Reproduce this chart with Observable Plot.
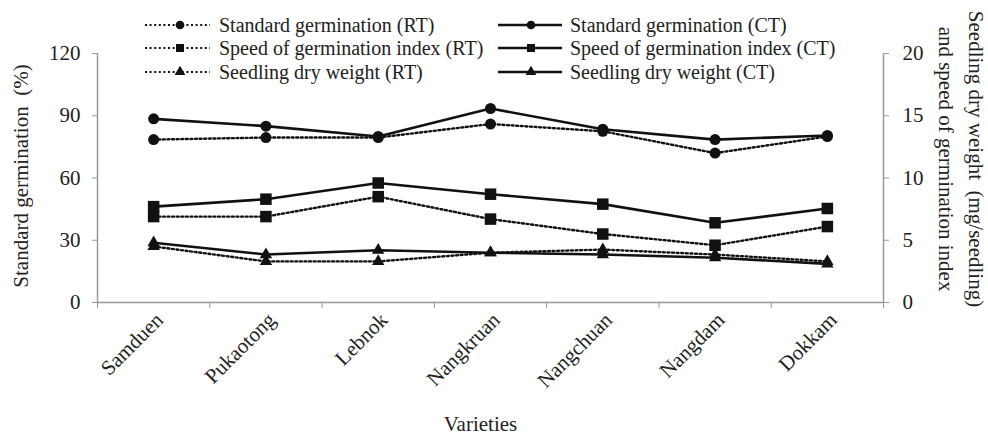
<!DOCTYPE html>
<html>
<head>
<meta charset="utf-8">
<script src="https://cdn.jsdelivr.net/npm/d3@7"></script>
<script src="https://cdn.jsdelivr.net/npm/@observablehq/plot@0.6"></script>
<style>
  html, body { margin: 0; padding: 0; background: #fff; }
  #chart { width: 988px; height: 434px; }
  #chart svg, #chart svg text, #chart svg tspan { font-family: "Liberation Serif", "Times New Roman", serif !important; }
</style>
</head>
<body>
<div id="chart"></div>
<script>
// ---- data ----
const varieties = ["Samduen", "Pukaotong", "Lebnok", "Nangkruan", "Nangchuan", "Nangdam", "Dokkam"];
// Standard germination (%) – left axis
const sgRT = [78.5, 79.5, 79.5, 86, 82.5, 72, 80];
const sgCT = [88.5, 85, 80, 93.5, 83.5, 78.5, 80.5];
// Speed of germination index – right axis
const sgiRT = [6.9, 6.9, 8.5, 6.7, 5.5, 4.6, 6.1];
const sgiCT = [7.7, 8.3, 9.6, 8.7, 7.9, 6.4, 7.55];
// Seedling dry weight (mg/seedling) – right axis
const sdwRT = [4.5, 3.3, 3.3, 4.0, 4.25, 3.85, 3.3];
const sdwCT = [4.8, 3.85, 4.2, 4.0, 3.85, 3.6, 3.1];

const leftTicks = [0, 30, 60, 90, 120];
const rightTicks = [0, 5, 10, 15, 20];
const leftMax = 120, rightMax = 20;
const k = leftMax / rightMax; // right values mapped onto the left scale

const seriesDefs = [
  {name: "Standard germination (RT)", vals: sgRT, scale: 1, dashed: true, symbol: "circle"},
  {name: "Speed of germination index (RT)", vals: sgiRT, scale: k, dashed: true, symbol: "square"},
  {name: "Seedling dry weight (RT)", vals: sdwRT, scale: k, dashed: true, symbol: "triangle"},
  {name: "Standard germination (CT)", vals: sgCT, scale: 1, dashed: false, symbol: "circle"},
  {name: "Speed of germination index (CT)", vals: sgiCT, scale: k, dashed: false, symbol: "square"},
  {name: "Seedling dry weight (CT)", vals: sdwCT, scale: k, dashed: false, symbol: "triangle"}
];

const rows = [];
seriesDefs.forEach(s => s.vals.forEach((v, i) => rows.push({
  series: s.name, xi: i + 0.5, y: v * s.scale, dashed: s.dashed, symbol: s.symbol
})));

const symR = {circle: 5.5, square: 6.5, triangle: 4.6};
const axisGray = "#999";
const FONT = "'Liberation Serif', 'Times New Roman', serif";

const chart = Plot.plot({
  width: 988,
  height: 434,
  marginLeft: 97,
  marginRight: 105,
  marginTop: 53,
  marginBottom: 132,
  style: {fontFamily: FONT, fontSize: "21px", color: "#222", background: "#fff"},
  x: {type: "linear", domain: [0, varieties.length]},
  y: {domain: [0, leftMax]},
  marks: [
    // frame axis lines
    Plot.ruleY([0], {stroke: axisGray, strokeWidth: 1.5}),
    Plot.ruleX([0, varieties.length], {stroke: axisGray, strokeWidth: 1.5}),
    // x axis: boundary ticks + rotated category labels
    Plot.axisX({ticks: d3.range(varieties.length + 1), tickFormat: () => "", tickSize: 6, stroke: axisGray, label: null}),
    Plot.axisX({ticks: varieties.map((d, i) => i + 0.5), tickFormat: v => varieties[Math.floor(v)],
      tickSize: 0, tickRotate: -45, tickPadding: 14, dx: 6, label: null, fill: "#222", fontSize: 21}),
    // left axis
    Plot.axisY({ticks: leftTicks, tickSize: 5, tickPadding: 12, stroke: axisGray, fill: "#222", label: null, fontSize: 21}),
    // right axis (secondary scale 0–20 drawn on the same y scale)
    Plot.axisY({anchor: "right", ticks: rightTicks.map(t => t * k), tickFormat: v => v / k,
      tickSize: 5, tickPadding: 14, stroke: axisGray, fill: "#222", label: null, fontSize: 21}),
    // axis titles
    Plot.text(["Standard germination  (%)"], {frameAnchor: "left", textAnchor: "middle", lineAnchor: "middle",
      rotate: -90, dx: -76, dy: -2, fill: "#222", fontSize: 21}),
    Plot.text(["Seedling dry weight  (mg/seedling)\nand speed of germination index"], {
      frameAnchor: "right", textAnchor: "middle", lineAnchor: "middle", rotate: 90, dx: 80, dy: -19,
      lineHeight: 1.43, fill: "#222", fontSize: 21}),
    Plot.text(["Varieties"], {frameAnchor: "bottom", textAnchor: "middle", dy: 128, dx: -10, fill: "#222", fontSize: 21}),
    // lines
    Plot.line(rows.filter(d => d.dashed), {x: "xi", y: "y", z: "series", stroke: "#111", strokeWidth: 2.4, strokeDasharray: "2,2.6"}),
    Plot.line(rows.filter(d => !d.dashed), {x: "xi", y: "y", z: "series", stroke: "#111", strokeWidth: 2.6}),
    // markers
    ...["circle", "square", "triangle"].map(sym =>
      Plot.dot(rows.filter(d => d.symbol === sym), {x: "xi", y: "y", symbol: sym, r: symR[sym], fill: "#111", stroke: "none"}))
  ]
});

document.getElementById("chart").appendChild(chart);

// ---- legend (two columns, drawn into the same SVG) ----
const svg = d3.select(chart);
const lg = svg.append("g").attr("font-family", FONT).attr("font-size", 20)
  .attr("fill", "#222").attr("text-anchor", "start");
const legendRowsY = [25, 48, 72];
const columns = [
  {x0: 145, x1: 210, mx: 180, tx: 219, dashed: true},
  {x0: 498, x1: 562, mx: 531, tx: 570, dashed: false}
];
const legSym = {circle: d3.symbolCircle, square: d3.symbolSquare, triangle: d3.symbolTriangle};
const legSize = {circle: 60, square: 64, triangle: 50};
seriesDefs.forEach((s, idx) => {
  const col = columns[s.dashed ? 0 : 1];
  const y = legendRowsY[idx % 3];
  lg.append("line").attr("x1", col.x0).attr("x2", col.x1).attr("y1", y).attr("y2", y)
    .attr("stroke", "#111").attr("stroke-width", s.dashed ? 2.2 : 2.6)
    .attr("stroke-dasharray", s.dashed ? "2,2.6" : null);
  lg.append("path").attr("transform", `translate(${col.mx},${y})`)
    .attr("d", d3.symbol(legSym[s.symbol], legSize[s.symbol])()).attr("fill", "#111");
  lg.append("text").attr("x", col.tx).attr("y", y).attr("dy", "0.35em")
    .attr("text-anchor", "start").text(s.name);
});
</script>
</body>
</html>
